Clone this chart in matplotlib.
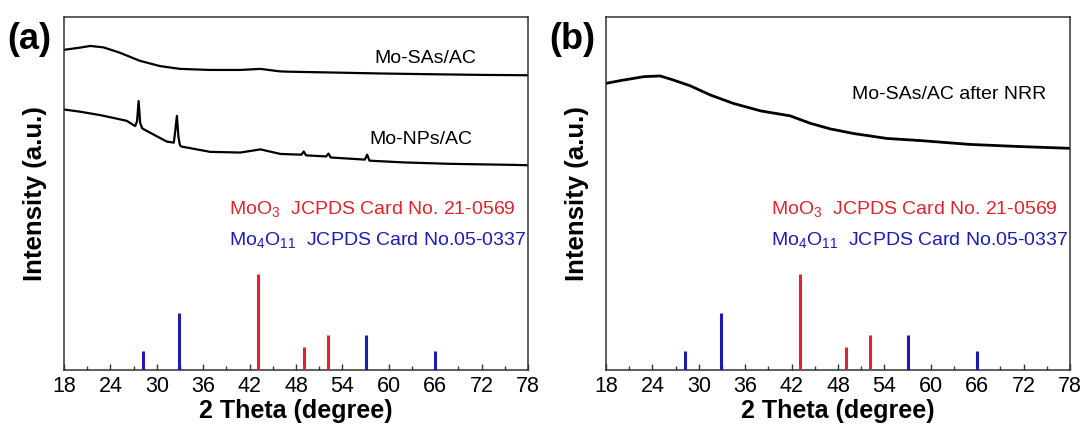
import matplotlib
matplotlib.use("Agg")
import matplotlib.pyplot as plt
from matplotlib.ticker import MultipleLocator

plt.rcParams.update({
    "font.family": ["Liberation Sans", "DejaVu Sans"],
    "mathtext.fontset": "custom",
    "mathtext.rm": "Liberation Sans",
    "mathtext.it": "Liberation Sans:italic",
    "mathtext.bf": "Liberation Sans:bold",
})

# XRD patterns (2theta in degree, intensity in % of axis height)
sa_x = [18, 20, 21.4, 23.1, 25.2, 27.8, 30.4, 33, 36.9, 40.8, 43.4, 45.9, 47.2,
        52, 58.9, 65, 72, 78]
sa_y = [90.7, 91.3, 91.8, 91.4, 89.9, 87.6, 86.1, 85.3, 85.0, 85.0, 85.3, 84.6,
        84.5, 84.3, 84.0, 83.8, 83.6, 83.5]

np_x = [18, 20, 22.7, 26.1, 27.2, 27.45, 27.65, 27.85, 28.1, 28.3, 31.3, 32.2,
        32.4, 32.6, 32.8, 33.0, 33.2, 36.9, 40.8, 43.4, 46, 48.7, 49.0, 49.3,
        51.9, 52.2, 52.5, 56.9, 57.2, 57.5, 62, 68, 76.3, 78]
np_y = [73.8, 73.2, 72.2, 70.6, 69.1, 70.5, 76.2, 70.0, 68.5, 68.2, 64.7, 64.4,
        68.0, 72.0, 66.0, 63.6, 63.3, 61.8, 61.6, 62.5, 61.2, 61.0, 61.9, 60.8,
        60.5, 61.3, 60.2, 59.6, 61.0, 59.3, 58.8, 58.4, 58.1, 58.0]

nrr_x = [18, 19.9, 22.9, 25.0, 26.5, 28.9, 31.5, 34.5, 38.0, 41.8, 44.4, 47.0,
         50.0, 54.3, 58.6, 65.1, 71.5, 78]
nrr_y = [81.2, 82.0, 83.1, 83.3, 82.3, 80.5, 77.9, 75.5, 73.4, 72.0, 69.9, 68.3,
         67.0, 65.6, 65.0, 63.9, 63.3, 62.8]

# reference cards
moo3_pos = [43.1, 49.0, 52.1]
moo3_int = [27.2, 6.6, 10.0]
mo4o11_pos = [28.2, 32.9, 57.1, 66.0]
mo4o11_int = [5.4, 16.2, 10.0, 5.4]

RED = "#e0242c"
BLUE = "#1c1cb4"

fig = plt.figure(figsize=(10.86, 4.28), dpi=100)
ax_a = fig.add_axes([64 / 1086, 1 - 370 / 428, 464 / 1086, 353 / 428])
ax_b = fig.add_axes([606 / 1086, 1 - 370 / 428, 464 / 1086, 353 / 428])


def draw_cards(ax):
    ax.vlines(moo3_pos, 0, moo3_int, color=RED, linewidth=2.2, zorder=3)
    ax.vlines(mo4o11_pos, 0, mo4o11_int, color=BLUE, linewidth=2.2, zorder=3)
    ax.text(39.3, 44.1, r"MoO$_3$  JCPDS Card No. 21-0569", color=RED,
            fontsize=14, va="baseline", ha="left")
    ax.text(39.3, 35.4, r"Mo$_4$O$_{11}$  JCPDS Card No.05-0337", color=BLUE,
            fontsize=14, va="baseline", ha="left")


def style(ax, tag):
    ax.set_xlim(18, 78)
    ax.set_ylim(0, 100)
    ax.xaxis.set_major_locator(MultipleLocator(6))
    ax.xaxis.set_minor_locator(MultipleLocator(3))
    ax.set_yticks([])
    ax.tick_params(axis="x", which="both", direction="in", top=False,
                   labelsize=15.5, pad=4, color="#333333")
    ax.tick_params(axis="x", which="major", length=4.5, width=1.0)
    ax.tick_params(axis="x", which="minor", length=3, width=1.0)
    for sp in ax.spines.values():
        sp.set_linewidth(1.1)
        sp.set_color("#333333")
    ax.set_xlabel("2 Theta (degree)", fontsize=18, fontweight="bold", labelpad=2)
    ax.set_ylabel("Intensity (a.u.)", fontsize=18.5, fontweight="bold", labelpad=12)
    ax.text(-0.122, 0.935, tag, transform=ax.transAxes, fontsize=26,
            fontweight="bold", ha="left", va="center")


# (a)
ax_a.plot(sa_x, sa_y, color="black", linewidth=1.6)
ax_a.plot(np_x, np_y, color="black", linewidth=1.6)
ax_a.text(58.1, 86.9, "Mo-SAs/AC", fontsize=14, va="baseline")
ax_a.text(57.5, 63.9, "Mo-NPs/AC", fontsize=14, va="baseline")
draw_cards(ax_a)
style(ax_a, "(a)")

# (b)
ax_b.plot(nrr_x, nrr_y, color="black", linewidth=2.0)
ax_b.text(49.8, 76.9, "Mo-SAs/AC after NRR", fontsize=14, va="baseline")
draw_cards(ax_b)
style(ax_b, "(b)")

fig.savefig("out.png", dpi=100)
